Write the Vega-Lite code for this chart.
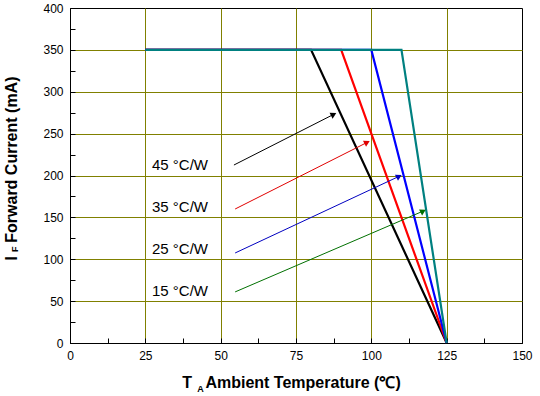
{
  "$schema": "https://vega.github.io/schema/vega-lite/v6.json",
  "width": 452,
  "height": 335,
  "autosize": {"type": "none"},
  "padding": {"left": 70, "top": 8, "right": 18, "bottom": 53},
  "background": "white",
  "view": {"stroke": "black", "strokeWidth": 1},
  "config": {
    "font": "Liberation Sans",
    "axis": {
      "domainColor": "black",
      "tickColor": "black",
      "labelColor": "black",
      "labelFont": "Liberation Sans",
      "labelFontSize": 12,
      "titleFont": "Liberation Sans",
      "titleFontWeight": "bold",
      "titleColor": "black",
      "gridColor": "#808000",
      "gridOpacity": 1,
      "gridWidth": 1
    }
  },
  "datasets": {
    "curves": [
      {"series": "45", "t": 25, "i": 350, "ord": 1},
      {"series": "45", "t": 80, "i": 350, "ord": 2},
      {"series": "45", "t": 125, "i": 0, "ord": 3},
      {"series": "35", "t": 25, "i": 350, "ord": 1},
      {"series": "35", "t": 90, "i": 350, "ord": 2},
      {"series": "35", "t": 125, "i": 0, "ord": 3},
      {"series": "25", "t": 25, "i": 350, "ord": 1},
      {"series": "25", "t": 100, "i": 350, "ord": 2},
      {"series": "25", "t": 125, "i": 0, "ord": 3},
      {"series": "15", "t": 25, "i": 350, "ord": 1},
      {"series": "15", "t": 110, "i": 350, "ord": 2},
      {"series": "15", "t": 125, "i": 0, "ord": 3}
    ],
    "arrows": [
      {"series": "a45", "t": 54.4, "i": 212.5, "head": false},
      {"series": "a45", "t": 87.5, "i": 273, "head": true},
      {"series": "a35", "t": 54.8, "i": 160, "head": false},
      {"series": "a35", "t": 98.6, "i": 239.5, "head": true},
      {"series": "a25", "t": 54.8, "i": 107.5, "head": false},
      {"series": "a25", "t": 109.2, "i": 199, "head": true},
      {"series": "a15", "t": 54.8, "i": 61, "head": false},
      {"series": "a15", "t": 117.2, "i": 157.5, "head": true}
    ],
    "labels": [
      {"label": "45 °C/W", "t": 27.2, "i": 212.5},
      {"label": "35 °C/W", "t": 27.2, "i": 162},
      {"label": "25 °C/W", "t": 27.2, "i": 112},
      {"label": "15 °C/W", "t": 27.2, "i": 62}
    ],
    "subs": [
      {"txt": "F", "t": -18.3, "i": 112, "axis": "y"},
      {"txt": "A", "t": 43.3, "i": -55.5, "axis": "x"}
    ]
  },
  "encoding": {
    "x": {
      "field": "t", "type": "quantitative",
      "scale": {"domain": [0, 150], "nice": false, "zero": false},
      "axis": {
        "title": "T\u00a0\u00a0\u00a0Ambient Temperature (℃)",
        "titleFontSize": 16,
        "titlePadding": 13,
        "titleX": 221,
        "values": [0, 12.5, 25, 37.5, 50, 62.5, 75, 87.5, 100, 112.5, 125, 137.5, 150],
        "labelExpr": "datum.value % 25 === 0 ? datum.value : ''",
        "gridColor": {"condition": {"test": "datum.value % 25 === 0 && datum.value > 0 && datum.value < 150", "value": "#808000"}, "value": "transparent"},
        "tickSize": -5,
        "labelPadding": 12,
        "labelFlush": false
      }
    },
    "y": {
      "field": "i", "type": "quantitative",
      "scale": {"domain": [0, 400], "nice": false, "zero": false},
      "axis": {
        "title": "I\u00a0\u00a0\u00a0Forward Current (mA)",
        "titleFontSize": 16,
        "titlePadding": 23,
        "titleY": 160,
        "values": [0, 25, 50, 75, 100, 125, 150, 175, 200, 225, 250, 275, 300, 325, 350, 375, 400],
        "labelExpr": "datum.value % 50 === 0 ? datum.value : ''",
        "gridColor": {"condition": {"test": "datum.value % 50 === 0 && datum.value > 0 && datum.value < 400", "value": "#808000"}, "value": "transparent"},
        "tickSize": -5,
        "labelPadding": 12,
        "labelFlush": false
      }
    }
  },
  "layer": [
    {
      "data": {"name": "curves"},
      "mark": {"type": "line", "strokeWidth": 2.2},
      "encoding": {
        "color": {
          "field": "series", "type": "nominal", "legend": null,
          "scale": {"domain": ["45", "35", "25", "15"], "range": ["#000000", "#ff0000", "#0000ff", "#008080"]}
        },
        "order": {"field": "ord", "type": "quantitative"}
      }
    },
    {
      "data": {"name": "arrows"},
      "mark": {"type": "line", "strokeWidth": 1},
      "encoding": {
        "color": {
          "field": "series", "type": "nominal", "legend": null,
          "scale": {"domain": ["a45", "a35", "a25", "a15"], "range": ["#000000", "#e00000", "#0000c0", "#007000"]}
        }
      }
    },
    {
      "data": {"name": "arrows"},
      "transform": [{"filter": "datum.head"}],
      "mark": {"type": "point", "shape": "triangle-right", "filled": true, "size": 45, "opacity": 1},
      "encoding": {
        "color": {
          "field": "series", "type": "nominal", "legend": null,
          "scale": {"domain": ["a45", "a35", "a25", "a15"], "range": ["#000000", "#e00000", "#0000c0", "#007000"]}
        },
        "angle": {
          "field": "series", "type": "nominal", "legend": null,
          "scale": {"domain": ["a45", "a35", "a25", "a15"], "range": [333, 333, 335, 337]}
        }
      }
    },
    {
      "data": {"name": "labels"},
      "mark": {"type": "text", "align": "left", "baseline": "middle", "fontSize": 15, "font": "Liberation Sans", "color": "black"},
      "encoding": {"text": {"field": "label"}}
    },
    {
      "data": {"name": "subs"},
      "transform": [{"filter": "datum.axis === 'y'"}],
      "mark": {"type": "text", "align": "center", "baseline": "middle", "fontSize": 9, "fontWeight": "bold", "font": "Liberation Sans", "color": "black", "angle": 270},
      "encoding": {"text": {"field": "txt"}}
    },
    {
      "data": {"name": "subs"},
      "transform": [{"filter": "datum.axis === 'x'"}],
      "mark": {"type": "text", "align": "center", "baseline": "middle", "fontSize": 9, "fontWeight": "bold", "font": "Liberation Sans", "color": "black"},
      "encoding": {"text": {"field": "txt"}}
    }
  ],
  "resolve": {"scale": {"color": "independent", "angle": "independent"}}
}
